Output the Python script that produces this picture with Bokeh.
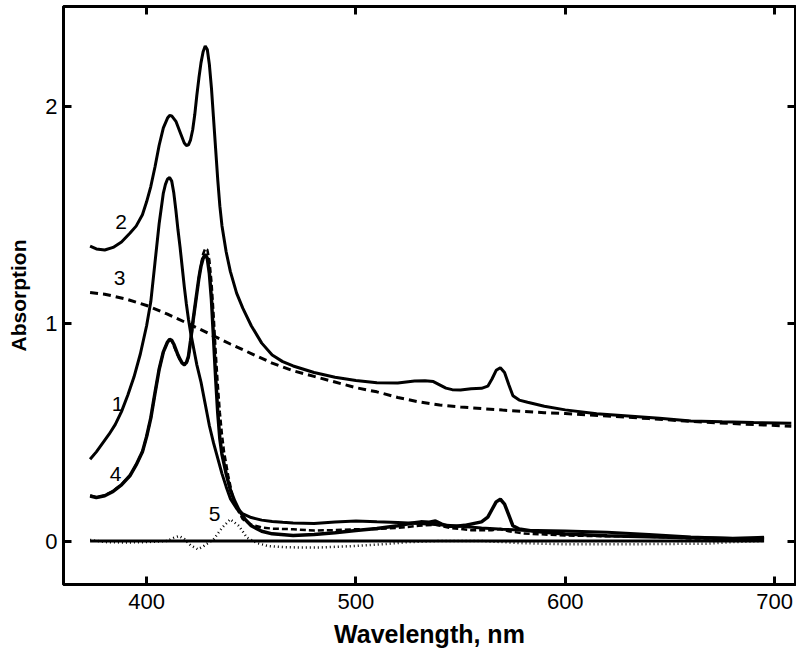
from bokeh.plotting import figure
from bokeh.models import Range1d, LinearAxis, FixedTicker, Label
from bokeh.embed import file_html
from bokeh.resources import INLINE

# ---------------- data ----------------
x_ticks = [400, 500, 600, 700]
y_ticks = [0, 1, 2]

# curve 2 (solid, top)
wl2 = [373, 376, 380, 384, 388, 392, 395, 398, 400, 402, 404, 406, 408, 410, 411, 412, 414, 416, 418, 419,
       420, 421, 422, 423, 424, 425, 426, 427, 428, 429, 430, 431, 432, 433, 434, 435, 436, 438, 440, 443,
       446, 450, 455, 460, 465, 470, 480, 490, 500, 510, 520, 528, 533, 537, 540, 543, 546, 550, 555, 560,
       563, 565, 567, 569, 571, 573, 575, 578, 582, 590, 600, 615, 630, 645, 660, 675, 690, 708]
a2 = [1.356, 1.343, 1.338, 1.350, 1.375, 1.415, 1.448, 1.50, 1.56, 1.63, 1.72, 1.82, 1.90, 1.945, 1.957, 1.955,
      1.93, 1.88, 1.83, 1.819, 1.822, 1.845, 1.89, 1.96, 2.05, 2.13, 2.20, 2.25, 2.276, 2.26, 2.19, 2.08, 1.94,
      1.80, 1.66, 1.54, 1.45, 1.33, 1.24, 1.14, 1.07, 0.99, 0.91, 0.855, 0.825, 0.805, 0.775, 0.753, 0.738,
      0.728, 0.727, 0.736, 0.737, 0.733, 0.718, 0.703, 0.696, 0.694, 0.700, 0.702, 0.712, 0.745, 0.785, 0.797,
      0.775, 0.72, 0.668, 0.648, 0.638, 0.62, 0.603, 0.585, 0.575, 0.565, 0.552, 0.548, 0.545, 0.542]

# curve 3 (dashed, broad)
wl3 = [373, 380, 390, 400, 410, 420, 430, 440, 450, 460, 470, 480, 490, 500, 510, 520, 530, 540, 550, 560,
       570, 580, 590, 600, 620, 640, 660, 680, 708]
a3 = [1.143, 1.135, 1.113, 1.083, 1.043, 0.999, 0.953, 0.906, 0.862, 0.818, 0.783, 0.757, 0.731, 0.705, 0.686,
      0.660, 0.640, 0.625, 0.616, 0.609, 0.602, 0.596, 0.590, 0.586, 0.575, 0.563, 0.550, 0.540, 0.528]

# curve 1 (solid, single Soret band)
wl1 = [373, 376, 379, 382, 385, 388, 391, 394, 397, 400, 402, 404, 406, 408, 409, 410, 411, 412, 413, 414,
       415, 416, 417, 418, 419, 420, 421, 422, 423, 424, 426, 428, 430, 432, 434, 436, 438, 440, 443, 446,
       450, 455, 460, 465, 470, 480, 490, 500, 510, 520, 530, 540, 550, 560, 570, 580, 600, 620, 640, 660,
       680, 695]
a1 = [0.376, 0.41, 0.45, 0.49, 0.535, 0.595, 0.67, 0.755, 0.86, 0.99, 1.10, 1.28, 1.46, 1.60, 1.64, 1.665,
      1.671, 1.655, 1.60, 1.52, 1.43, 1.35, 1.26, 1.17, 1.09, 1.02, 0.96, 0.91, 0.86, 0.81, 0.73, 0.63, 0.53,
      0.45, 0.38, 0.31, 0.25, 0.195, 0.15, 0.125, 0.108, 0.096, 0.090, 0.086, 0.083, 0.080, 0.087, 0.092,
      0.088, 0.085, 0.080, 0.075, 0.068, 0.060, 0.054, 0.050, 0.046, 0.040, 0.030, 0.018, 0.012, 0.017]

# curve 4 (solid, split Soret band)
wl4 = [373, 376, 380, 384, 388, 392, 395, 398, 400, 402, 404, 406, 408, 410, 411, 412, 413, 414, 415, 416,
       417, 418, 419, 420, 421, 422, 423, 424, 425, 426, 427, 428, 429, 430, 431, 432, 433, 434, 435, 436,
       438, 440, 442, 444, 447, 450, 455, 460, 470, 480, 490, 500, 510, 520, 527, 531, 535, 538, 541, 544,
       548, 552, 556, 560, 563, 565, 567, 569, 571, 573, 575, 578, 585, 600, 620, 640, 660, 680, 695]
a4 = [0.207, 0.200, 0.208, 0.228, 0.258, 0.30, 0.35, 0.41, 0.48, 0.565, 0.68, 0.79, 0.87, 0.915, 0.927, 0.923,
      0.905, 0.88, 0.855, 0.835, 0.818, 0.812, 0.82, 0.85, 0.92, 1.00, 1.07, 1.14, 1.21, 1.265, 1.30, 1.318,
      1.30, 1.23, 1.11, 0.93, 0.75, 0.59, 0.47, 0.40, 0.31, 0.235, 0.185, 0.145, 0.10, 0.07, 0.045, 0.033,
      0.025, 0.030, 0.038, 0.048, 0.058, 0.070, 0.083, 0.088, 0.086, 0.092, 0.078, 0.068, 0.068, 0.072, 0.080,
      0.088, 0.11, 0.145, 0.18, 0.192, 0.17, 0.12, 0.07, 0.055, 0.045, 0.032, 0.024, 0.020, 0.015, 0.012, 0.012]

# dashed companion of curve 4
wl6 = [373, 376, 380, 384, 388, 392, 395, 398, 400, 402, 404, 406, 408, 410, 411, 412, 414, 416, 418, 419,
       420, 421, 422, 423, 424, 425, 426, 427, 428, 429, 430, 431, 432, 433, 434, 435, 436, 437, 439, 441,
       443, 446, 450, 455, 460, 470, 480, 490, 500, 510, 520, 530, 538, 545, 555, 565, 569, 573, 580, 600,
       620, 640, 660, 680, 695]
a6 = [0.21, 0.20, 0.21, 0.23, 0.26, 0.30, 0.35, 0.41, 0.48, 0.565, 0.68, 0.79, 0.87, 0.915, 0.925, 0.92, 0.875,
      0.83, 0.808, 0.815, 0.845, 0.91, 0.99, 1.07, 1.14, 1.21, 1.27, 1.32, 1.345, 1.34, 1.29, 1.19, 1.04, 0.87,
      0.72, 0.59, 0.49, 0.41, 0.30, 0.21, 0.15, 0.10, 0.075, 0.062, 0.057, 0.054, 0.048, 0.050, 0.054, 0.055,
      0.060, 0.070, 0.075, 0.060, 0.050, 0.050, 0.055, 0.045, 0.035, 0.025, 0.022, 0.020, 0.012, 0.010, 0.010]

# curve 5 (dotted difference spectrum)
wl5 = [373, 380, 390, 400, 410, 413, 415.5, 418, 421, 424.5, 427, 432, 436, 440, 444, 448, 453, 458, 465,
       474, 482, 495, 513, 525, 540, 560, 580, 600, 630, 668, 680, 695]
a5 = [0.005, -0.005, -0.007, -0.005, 0.0, 0.015, 0.023, 0.010, -0.020, -0.038, -0.025, 0.008, 0.060, 0.100,
      0.070, 0.015, -0.010, -0.023, -0.028, -0.030, -0.030, -0.025, -0.015, -0.005, 0.0, 0.0, -0.010, -0.015,
      -0.015, -0.012, -0.005, 0.0]

# zero line
wl0 = [373, 695]
a0 = [0.0, 0.0]

# curve labels
label_text = ["1", "2", "3", "4", "5"]
label_x = [386.1, 387.8, 387.1, 385.2, 432.5]
label_y = [0.628, 1.468, 1.208, 0.307, 0.123]

# ---------------- figure ----------------
FONT = "Liberation Sans"

p = figure(width=796, height=650, x_range=Range1d(360.3, 710), y_range=Range1d(-0.2, 2.458),
           output_backend="svg", toolbar_location=None,
           x_axis_location=None, y_axis_location=None,
           min_border_left=63, min_border_right=1, min_border_top=6, min_border_bottom=64)
p.grid.visible = False
p.outline_line_color = "black"
p.outline_line_width = 3
p.background_fill_color = "white"
p.border_fill_color = "white"

bottom = LinearAxis(ticker=FixedTicker(ticks=x_ticks))
left = LinearAxis(ticker=FixedTicker(ticks=y_ticks))
top = LinearAxis(ticker=FixedTicker(ticks=x_ticks))
right = LinearAxis(ticker=FixedTicker(ticks=y_ticks))
p.add_layout(bottom, "below")
p.add_layout(left, "left")
p.add_layout(top, "above")
p.add_layout(right, "right")

for ax in [bottom, left, top, right]:
    ax.major_tick_in = 8
    ax.major_tick_out = 0
    ax.major_tick_line_width = 3
    ax.major_tick_line_color = "black"
    ax.minor_tick_line_color = None
    ax.axis_line_width = 3
    ax.axis_line_color = "black"
    ax.major_label_text_font = FONT
    ax.major_label_text_color = "black"
    ax.major_label_text_font_size = "22px"

top.major_label_overrides = {t: "" for t in x_ticks}
right.major_label_overrides = {t: "" for t in y_ticks}
for ax in [top, right]:
    ax.major_label_text_font_size = "1px"
    ax.major_label_standoff = 0

bottom.major_label_standoff = 9
left.major_label_standoff = 6
bottom.axis_label = "Wavelength, nm"
left.axis_label = "Absorption"
for ax in [bottom, left]:
    ax.axis_label_text_font = FONT
    ax.axis_label_text_font_style = "bold"
    ax.axis_label_text_color = "black"
bottom.axis_label_text_font_size = "25px"
left.axis_label_text_font_size = "21px"
bottom.axis_label_standoff = 8
left.axis_label_standoff = 12

# ---------------- curves ----------------
p.line(wl0, a0, line_color="black", line_width=3)
p.line(wl5, a5, line_color="black", line_width=2.5, line_dash="1 3")
p.line(wl3, a3, line_color="black", line_width=3, line_dash="8 5")
p.line(wl2, a2, line_color="black", line_width=3)
p.line(wl1, a1, line_color="black", line_width=3)
p.line(wl4, a4, line_color="black", line_width=3.5)
p.line(wl6, a6, line_color="black", line_width=2.5, line_dash="6 3")

for t, x, y in zip(label_text, label_x, label_y):
    p.add_layout(Label(x=x, y=y, text=t, text_align="center", text_baseline="middle",
                       text_font=FONT, text_font_size="21px", text_color="black"))

open("out.html", "w").write(file_html(p, INLINE))
